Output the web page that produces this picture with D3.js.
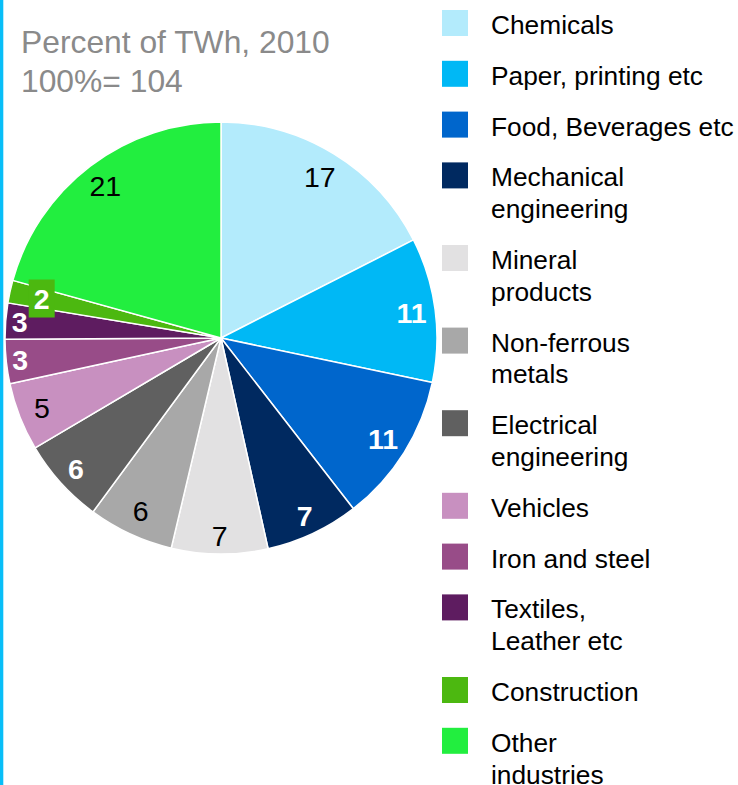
<!DOCTYPE html>
<html>
<head>
<meta charset="utf-8">
<script src="https://cdn.jsdelivr.net/npm/d3@7"></script>
<style>
  html, body { margin: 0; padding: 0; background: #fff; }
  svg { display: block; font-family: "Liberation Sans", Arial, sans-serif; }
</style>
</head>
<body>
<div id="chart"></div>
<script>
// ---- data ----
const categories = [
  "Chemicals", "Paper, printing etc", "Food, Beverages etc", "Mechanical engineering",
  "Mineral products", "Non-ferrous metals", "Electrical engineering", "Vehicles",
  "Iron and steel", "Textiles, Leather etc", "Construction", "Other industries"
];
const legendLines = [
  ["Chemicals"], ["Paper, printing etc"], ["Food, Beverages etc"], ["Mechanical", "engineering"],
  ["Mineral", "products"], ["Non-ferrous", "metals"], ["Electrical", "engineering"], ["Vehicles"],
  ["Iron and steel"], ["Textiles,", "Leather etc"], ["Construction"], ["Other", "industries"]
];
// shares of TWh (percent)
const shares = [17.5, 10.8, 11.2, 7.0, 7.2, 6.4, 6.4, 5.1, 3.3, 2.7, 1.7, 20.7];
// printed labels
const valueLabels = ["17", "11", "11", "7", "7", "6", "6", "5", "3", "3", "2", "21"];
const titleLines = ["Percent of TWh, 2010", "100%= 104"];

// ---- styles ----
const colors = ["#B3EBFC", "#00B8F5", "#0066CC", "#002960", "#E2E1E2", "#A8A8A8",
                "#606060", "#C890C0", "#984C88", "#5E1C60", "#4CB810", "#22EE3F"];
const labelWhite = [false, true, true, true, false, false, true, false, true, true, true, false];
const labelRadiusFactor = [0.875, 0.89, 0.885, 0.91, 0.915, 0.885, 0.905, 0.89, 0.935, 0.935, 0.85, 0.885];

const W = 738, H = 785;
const cx = 221, cy = 338, R = 216;

const svg = d3.select("#chart").append("svg").attr("width", W).attr("height", H);

// left accent bar
svg.append("rect").attr("x", 0).attr("y", 0).attr("width", 3.3).attr("height", H)
  .attr("fill", "#08BEF8");

// title
svg.append("text").attr("x", 21).attr("y", 53)
  .attr("font-size", 31.8).attr("fill", "#8A8A8A")
  .selectAll("tspan").data(titleLines).join("tspan")
  .attr("x", 21).attr("dy", (d, i) => i === 0 ? 0 : 39).text(d => d);

// pie
const pie = d3.pie().sort(null).value(d => d.v);
const items = categories.map((c, i) => ({ c, v: shares[i], i }));
const arcs = pie(items);
const arc = d3.arc().innerRadius(0).outerRadius(R);

const g = svg.append("g").attr("transform", `translate(${cx},${cy})`);
g.selectAll("path.slice").data(arcs).join("path")
  .attr("class", "slice")
  .attr("d", arc)
  .attr("fill", d => colors[d.data.i])
  .attr("stroke", "#fff").attr("stroke-width", 1.5).attr("stroke-linejoin", "round");

// labels
const fs = 28.5;
arcs.forEach(d => {
  const i = d.data.i;
  const r = R * labelRadiusFactor[i];
  const a = (d.startAngle + d.endAngle) / 2;
  const x = Math.sin(a) * r, y = -Math.cos(a) * r;
  if (categories[i] === "Construction") {
    g.append("rect").attr("x", x - 13).attr("y", y - 19).attr("width", 26).attr("height", 38)
      .attr("fill", colors[i]);
  }
  g.append("text")
    .attr("x", x).attr("y", y)
    .attr("text-anchor", "middle").attr("dominant-baseline", "central")
    .attr("font-size", fs)
    .attr("font-weight", labelWhite[i] ? "bold" : "normal")
    .attr("fill", labelWhite[i] ? "#fff" : "#000")
    .text(valueLabels[i]);
});

// legend
const lg = svg.append("g");
const rowGap = 50.8, lineGap = 31.8;
let ly = 10;
legendLines.forEach((lines, i) => {
  lg.append("rect").attr("x", 442).attr("y", ly).attr("width", 26).attr("height", 26)
    .attr("fill", colors[i]);
  const t = lg.append("text").attr("x", 491).attr("y", ly + 24)
    .attr("font-size", 26.3).attr("fill", "#000");
  lines.forEach((s, k) => {
    t.append("tspan").attr("x", 491).attr("dy", k === 0 ? 0 : lineGap).text(s);
  });
  ly += rowGap + (lines.length - 1) * lineGap;
});
</script>
</body>
</html>
